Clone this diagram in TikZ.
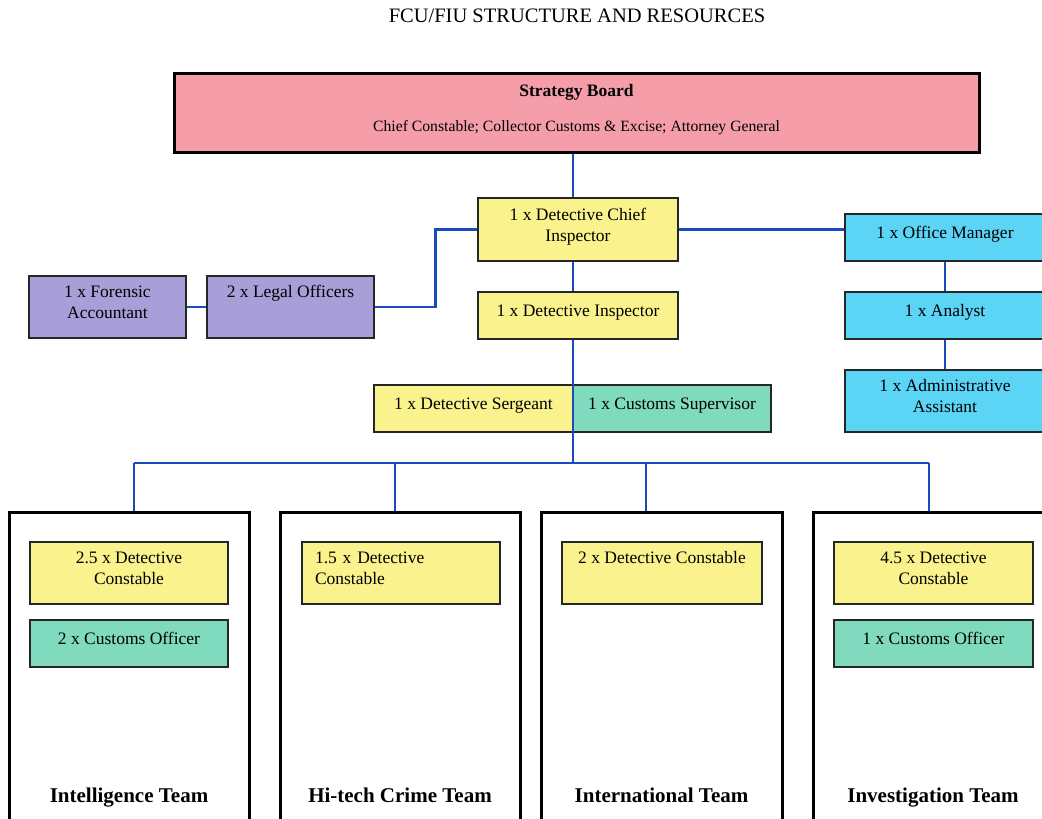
\documentclass[tikz,border=0pt]{standalone}
\usepackage{fontspec}
\setmainfont{Liberation Serif}
\usepackage{xcolor}
\usetikzlibrary{calc}
\definecolor{boardpink}{RGB}{245,158,170}
\definecolor{dyellow}{RGB}{250,242,140}
\definecolor{cgreen}{RGB}{128,218,190}
\definecolor{opurple}{RGB}{168,158,216}
\definecolor{acyan}{RGB}{92,212,245}
\definecolor{linkblue}{RGB}{25,75,190}
\tikzset{
	box/.style={draw=black!85, line width=1.4pt, inner sep=0pt, align=center, text depth=10pt, font=\fontsize{17.5}{21}\selectfont},
	board/.style={box, draw=black, line width=3pt, fill=boardpink, minimum width=805pt, minimum height=79pt, font=\fontsize{15.7}{21}\selectfont},
	team/.style={draw=black, line width=3pt, minimum width=240pt, minimum height=320pt, anchor=north},
	teamname/.style={anchor=base, font=\fontsize{21}{25}\selectfont\bfseries},
	title/.style={font=\fontsize{20.5}{24}\selectfont},
	link/.style={draw=linkblue, line width=2.8pt}
}

\begin{document}
\begin{tikzpicture}[x=1pt,y=-1pt]
	\useasboundingbox (0,0) rectangle (1042,819);
	\node[title] (ttl) at (577,16) {FCU/FIU STRUCTURE AND RESOURCES};
	\node[board] (brd) at (576.5,112.5) {{\fontsize{17.5}{21}\selectfont\bfseries Strategy Board}\\[14pt] Chief Constable; Collector Customs \& Excise; Attorney General};
	% command chain
	\node[box, fill=dyellow, minimum width=200pt, minimum height=63pt] (dci) at (578,229.5) {1 x Detective Chief\\Inspector};
	\node[box, fill=dyellow, minimum width=200pt, minimum height=47pt] (di) at (578,315.5) {1 x Detective Inspector};
	\node[box, fill=dyellow, minimum width=199pt, minimum height=47pt] (sgt) at (473.5,408.5) {1 x Detective Sergeant};
	\node[box, fill=cgreen, minimum width=198pt, minimum height=47pt] (sup) at (672,408.5) {1 x Customs Supervisor};
	\node[box, fill=opurple, minimum width=157pt, minimum height=62pt] (fa) at (107.5,307) {1 x Forensic\\Accountant};
	\node[box, fill=opurple, minimum width=167pt, minimum height=62pt] (legal) at (290.5,307) {2 x Legal Officers\\ \mbox{}};
	\node[box, fill=acyan, minimum width=200pt, minimum height=47pt] (om) at (945,237.5) {1 x Office Manager};
	\node[box, fill=acyan, minimum width=200pt, minimum height=47pt] (an) at (945,315.5) {1 x Analyst};
	\node[box, fill=acyan, minimum width=200pt, minimum height=62pt] (adm) at (945,401) {1 x Administrative\\Assistant};
	% teams
	\node[team] (intel) at (129,511) {};
	\node[team] (hitech) at (400,511) {};
	\node[team, minimum width=241pt] (intl) at (661.5,511) {};
	\node[team] (inv) at (933,511) {};
	\node[box, fill=dyellow, minimum width=198pt, minimum height=62pt] (intdc) at (129,573) {2.5 x Detective\\Constable};
	\node[box, fill=cgreen, minimum width=198pt, minimum height=47pt] (intco) at (129,643.5) {2 x Customs Officer};
	\node[box, fill=dyellow, minimum width=198pt, minimum height=62pt, text width=172pt, text depth=31pt, align=left] (hidc) at (401,573) {1.5 x Detective\\Constable};
	\node[box, fill=dyellow, minimum width=200pt, minimum height=62pt] (intldc) at (662,573) {2 x Detective Constable\\ \mbox{}};
	\node[box, fill=dyellow, minimum width=199pt, minimum height=62pt] (invdc) at (933.5,573) {4.5 x Detective\\Constable};
	\node[box, fill=cgreen, minimum width=199pt, minimum height=47pt] (invco) at (933.5,643.5) {1 x Customs Officer};
	\node[teamname] (intelname) at (129,802) {Intelligence Team};
	\node[teamname] (hitechname) at (400,802) {Hi-tech Crime Team};
	\node[teamname] (intlname) at (661.5,802) {International Team};
	\node[teamname] (invname) at (933,802) {Investigation Team};
	% links
	\coordinate (spine) at (573,463);
	\coordinate (d1) at (134,463);
	\coordinate (d2) at (395,463);
	\coordinate (d3) at (646,463);
	\coordinate (d4) at (929,463);
	\draw[link] (brd.south -| spine) -- (dci.north -| spine);
	\draw[link] (dci.south -| spine) -- (di.north -| spine);
	\draw[link] (di.south -| spine) -- (spine);
	\draw[link] (dci.east) -- (dci.east -| om.west);
	\draw[link] (dci.west) -- ++(-42,0) |- (legal.east);
	\draw[link] (fa.east) -- (legal.west);
	\draw[link] (om.south) -- (an.north);
	\draw[link] (an.south) -- (adm.north);
	\draw[link] (d1) -- (d4);
	\draw[link] (d1) -- (d1 |- intel.north);
	\draw[link] (d2) -- (d2 |- hitech.north);
	\draw[link] (d3) -- (d3 |- intl.north);
	\draw[link] (d4) -- (d4 |- inv.north);
\end{tikzpicture}
\end{document}
